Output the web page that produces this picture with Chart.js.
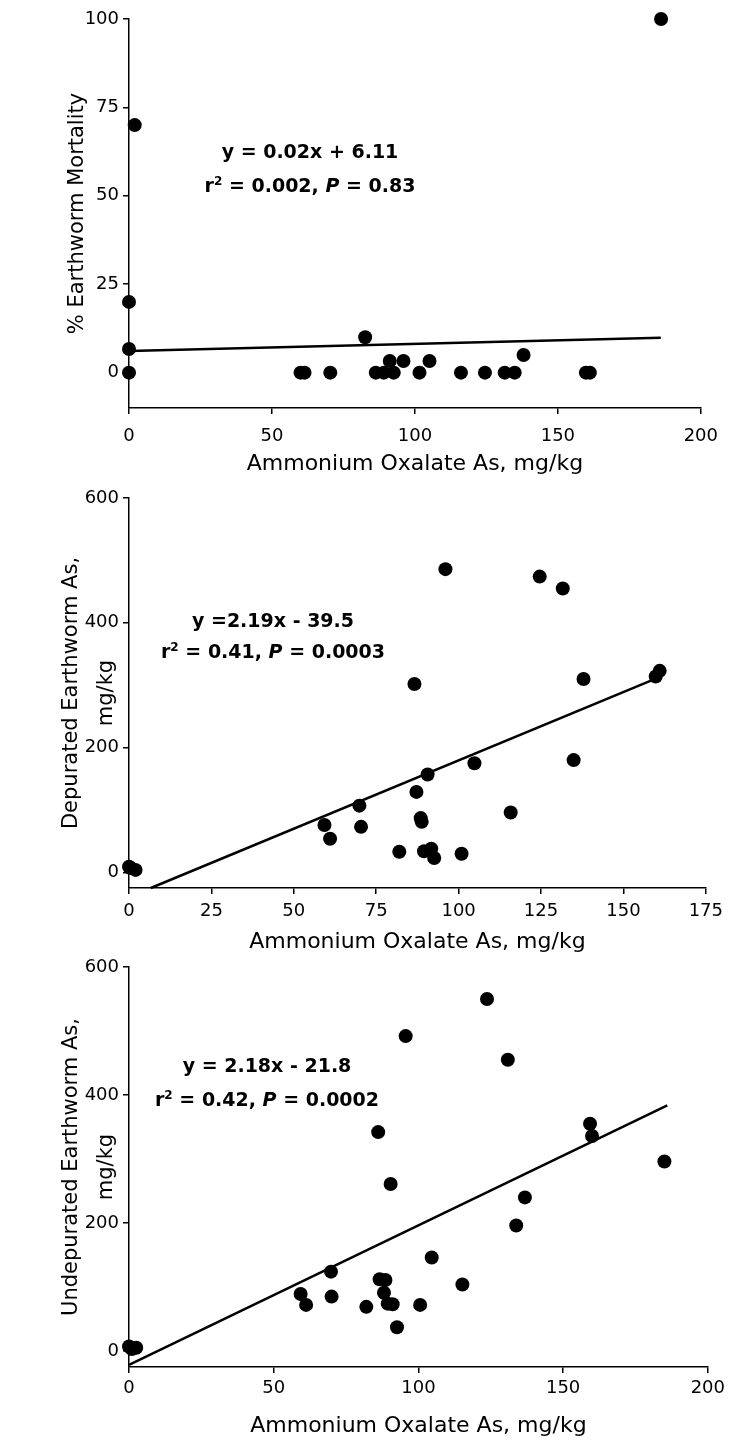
<!DOCTYPE html>
<html>
<head>
<meta charset="utf-8">
<script src="https://cdn.jsdelivr.net/npm/chart.js@4.4.0/dist/chart.umd.min.js"></script>
<style>
  body { margin: 0; background: #fff; }
  #page { position: relative; width: 730px; height: 1450px; overflow: hidden; }
  canvas { position: absolute; left: 0; }
  .eq { position: absolute; transform: translate(-50%, -50%); font: bold 19px "DejaVu Sans", sans-serif;
        white-space: nowrap; text-align: center; color: #000; }
  .eq sup { font-size: 12px; }
</style>
</head>
<body>
<div id="page">
  <canvas id="mort" width="730" height="480" style="top:0"></canvas>
  <canvas id="dep" width="730" height="476" style="top:480px"></canvas>
  <canvas id="undep" width="730" height="496" style="top:945px"></canvas>

  <div class="eq" style="left:310px;top:168px;line-height:30px">y = 0.02x + 6.11<br>r<sup>2</sup> = 0.002, <i>P</i> = 0.83</div>
  <div class="eq" style="left:273px;top:636px;line-height:27px">y =2.19x - 39.5<br>r<sup>2</sup> = 0.41, <i>P</i> = 0.0003</div>
  <div class="eq" style="left:267px;top:1082px;line-height:30px">y = 2.18x - 21.8<br>r<sup>2</sup> = 0.42, <i>P</i> = 0.0002</div>
</div>
<script>
// ammonium oxalate extractable As in soil (mg/kg) vs earthworm response
const mortAsX = [0, 0, 0, 2, 186.1, 82.6, 60.0, 61.4, 70.4, 86.3, 89.1, 91.2, 92.6, 96.0,
  101.6, 105.1, 116.1, 124.5, 131.4, 134.9, 138.0, 159.8, 161.2];
const mortPct = [0, 6.7, 20, 70, 100, 10, 0, 0, 0, 0, 0, 3.3, 0, 3.3,
  0, 3.3, 0, 0, 0, 0, 5, 0, 0];

const depAsX = [0, 0.5, 2, 96.0, 124.6, 131.6, 86.6, 137.9, 159.8, 161.0, 104.8, 134.9, 90.6,
  87.2, 69.9, 59.3, 61.0, 70.4, 88.5, 88.8, 115.8, 82.0, 89.5, 91.7, 92.6, 100.9];
const depWormAs = [9, 7, 4, 486, 474, 455, 302, 310, 314, 323, 175, 180, 157,
  129, 107, 76, 54, 73, 87, 81, 96, 33, 34, 38, 23, 30];

const undepAsX = [0, 1, 2.5, 123.7, 95.6, 130.9, 86.1, 159.3, 160.0, 185.0, 90.4, 136.8, 133.8,
  104.6, 115.2, 69.8, 59.3, 61.2, 70.0, 82.0, 86.6, 88.6, 88.1, 89.4, 91.1, 100.6, 92.6];
const undepWormAs = [7, 3, 5, 550, 492, 455, 342, 355, 336, 296, 261, 240, 196,
  146, 104, 124, 89, 72, 85, 69, 112, 111, 91, 74, 73, 72, 37];

const xTicks200 = [0, 50, 100, 150, 200];
const xTicks175 = [0, 25, 50, 75, 100, 125, 150, 175];
const mortTicks = [0, 25, 50, 75, 100];
const wormTicks = [0, 200, 400, 600];

// least-squares fits [slope, intercept] and the last x of each fitted line
const mortFit = [0.02, 6.11];
const depFit = [2.19, -39.5];
const undepFit = [2.18, -21.8];
const mortFitEnd = 186;
const depFitEnd = 160;
const undepFitEnd = 186;

const FONT = '"DejaVu Sans", sans-serif';

function scatterPanel(id, xs, ys, fit, fitEnd, o) {
  const pts = xs.map((x, i) => ({ x: x, y: ys[i] }));
  // fitted line starts where it enters the plot (x axis minimum or y axis minimum)
  const x0 = Math.max(o.xMin, (o.yMin - fit[1]) / fit[0]);
  const line = [x0, fitEnd].map(x => ({ x: x, y: fit[0] * x + fit[1] }));

  return new Chart(document.getElementById(id), {
    type: 'scatter',
    data: {
      datasets: [
        { data: pts, pointRadius: 7, pointHoverRadius: 7, backgroundColor: '#000',
          borderWidth: 0, clip: false },
        { data: line, showLine: true, pointRadius: 0, borderColor: '#000', borderWidth: 2.5,
          clip: false }
      ]
    },
    options: {
      responsive: false,
      animation: false,
      layout: { padding: { top: o.padTop, right: 18, left: 0, bottom: 0 } },
      plugins: { legend: { display: false }, tooltip: { enabled: false } },
      scales: {
        x: {
          type: 'linear', min: o.xMin, max: o.xMax,
          afterBuildTicks: s => { s.ticks = o.xTicks.map(v => ({ value: v })); },
          afterFit: s => { s.height = o.xHeight; },
          border: { color: '#000', width: 1.5 },
          grid: { drawOnChartArea: false, tickLength: 6, color: '#000', lineWidth: 1.5 },
          ticks: { color: '#000', font: { family: FONT, size: 18 }, padding: o.xTickPad, maxRotation: 0 },
          title: { display: true, text: 'Ammonium Oxalate As, mg/kg', color: '#000',
            font: { family: FONT, size: 22 }, padding: { top: 0, bottom: o.xTitlePad } }
        },
        y: {
          type: 'linear', min: o.yMin, max: o.yMax,
          afterBuildTicks: s => { s.ticks = o.yTicks.map(v => ({ value: v })); },
          afterFit: s => { s.width = 129; },
          border: { color: '#000', width: 1.5 },
          grid: { drawOnChartArea: false, tickLength: 6, color: '#000', lineWidth: 1.5 },
          ticks: { color: '#000', font: { family: FONT, size: 18 }, padding: 4 },
          title: { display: true, text: o.yTitle, color: '#000',
            font: { family: FONT, size: 21, lineHeight: 1.67 }, padding: { top: o.yTitlePad, bottom: 0 } }
        }
      }
    }
  });
}

scatterPanel('mort', mortAsX, mortPct, mortFit, mortFitEnd, {
  xMin: 0, xMax: 200, yMin: -10, yMax: 100, xTicks: xTicks200, yTicks: mortTicks,
  padTop: 19, xHeight: 72, xTickPad: 12, xTitlePad: 3,
  yTitle: '% Earthworm Mortality', yTitlePad: 60
});

scatterPanel('dep', depAsX, depWormAs, depFit, depFitEnd, {
  xMin: 0, xMax: 175, yMin: -25, yMax: 600, xTicks: xTicks175, yTicks: wormTicks,
  padTop: 18, xHeight: 68, xTickPad: 7, xTitlePad: 1,
  yTitle: ['Depurated Earthworm As,', 'mg/kg'], yTitlePad: 54
});

scatterPanel('undep', undepAsX, undepWormAs, undepFit, undepFitEnd, {
  xMin: 0, xMax: 200, yMin: -25, yMax: 600, xTicks: xTicks200, yTicks: wormTicks,
  padTop: 22, xHeight: 74, xTickPad: 5, xTitlePad: 2,
  yTitle: ['Undepurated Earthworm As,', 'mg/kg'], yTitlePad: 54
});
</script>
</body>
</html>
